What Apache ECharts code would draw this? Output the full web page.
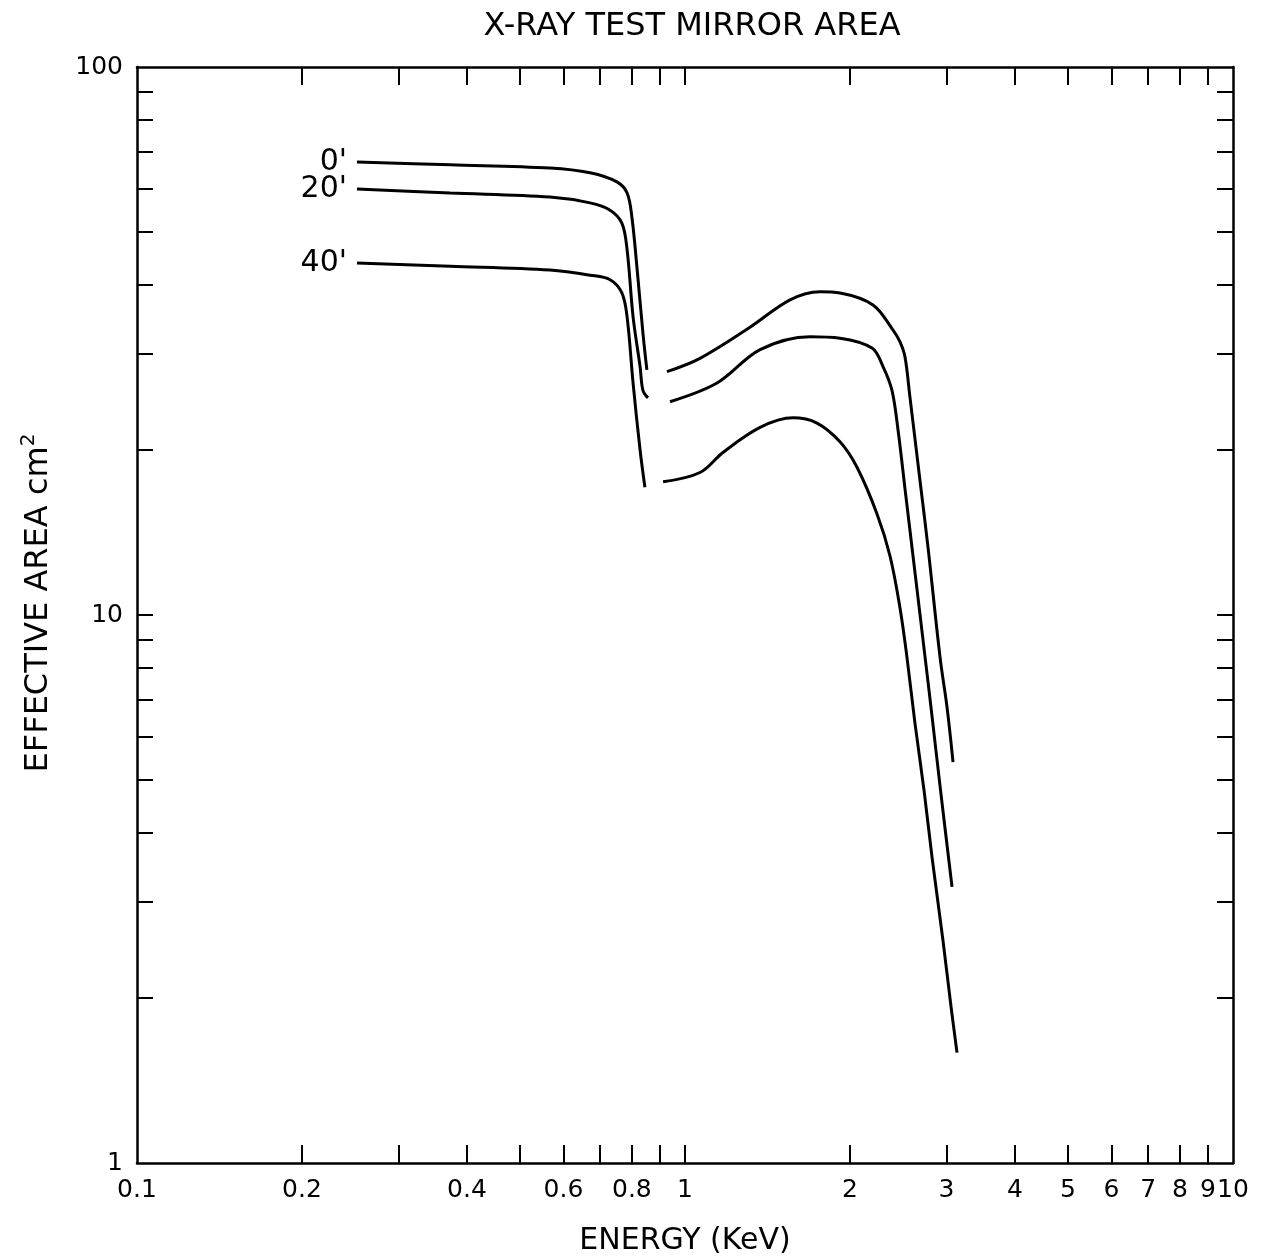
<!DOCTYPE html>
<html>
<head>
<meta charset="utf-8">
<title>X-RAY TEST MIRROR AREA</title>
<script src="https://cdn.jsdelivr.net/npm/echarts@6/dist/echarts.min.js"></script>
<style>
html, body { margin: 0; padding: 0; background: #fff; }
#main { width: 1266px; height: 1259px; }
</style>
</head>
<body>
<div id="main"></div>
<script>
// energy (KeV), effective area (cm2), each curve has a gap near 0.9 KeV
var area0Low = [[0.252, 67.1], [0.373, 66.3], [0.567, 65.4], [0.671, 64.1], [0.751, 61.7], [0.784, 58.9], [0.800, 53.2], [0.817, 43.2], [0.838, 32.7], [0.852, 28.0]];
var area0High = [[0.927, 27.8], [1.065, 29.4], [1.314, 33.5], [1.555, 37.6], [1.764, 38.9], [1.918, 38.7], [2.203, 36.8], [2.397, 33.1], [2.468, 31.5], [2.52, 29.6], [2.573, 25.0], [2.684, 17.6], [2.776, 13.3], [2.92, 8.38], [3.007, 6.79], [3.084, 5.39]];

var area20Low = [[0.252, 59.9], [0.373, 58.9], [0.567, 57.9], [0.671, 56.5], [0.730, 54.8], [0.767, 51.9], [0.784, 46.4], [0.804, 35.0], [0.828, 28.4], [0.838, 25.7], [0.856, 24.9]];
var area20High = [[0.939, 24.5], [1.144, 26.5], [1.371, 30.5], [1.691, 32.2], [1.918, 32.0], [2.194, 30.7], [2.298, 28.4], [2.386, 25.7], [2.447, 21.8], [2.531, 16.4], [2.617, 12.4], [2.742, 8.38], [2.811, 6.79], [2.926, 4.79], [3.071, 3.19]];

var area40Low = [[0.252, 43.9], [0.373, 43.3], [0.567, 42.6], [0.671, 41.7], [0.730, 40.9], [0.767, 38.7], [0.784, 35.0], [0.804, 26.5], [0.828, 20.0], [0.845, 17.1]];
var area40High = [[0.912, 17.5], [1.065, 18.2], [1.173, 19.8], [1.371, 22.0], [1.574, 22.9], [1.741, 22.4], [1.918, 20.7], [2.06, 18.6], [2.24, 15.3], [2.367, 12.8], [2.468, 10.3], [2.541, 8.38], [2.628, 6.35], [2.730, 4.79], [2.823, 3.62], [2.956, 2.55], [3.058, 1.93], [3.136, 1.59]];

var curveNames = ["0'", "20'", "40'"];

var xTicks = [0.2, 0.3, 0.4, 0.5, 0.6, 0.7, 0.8, 0.9, 1, 2, 3, 4, 5, 6, 7, 8, 9];
var xLabels = [0.1, 0.2, 0.4, 0.6, 0.8, 1, 2, 3, 4, 5, 6, 7, 8, 9, 10];
var yTicks = [2, 3, 4, 5, 6, 7, 8, 9, 10, 20, 30, 40, 50, 60, 70, 80, 90];
var yLabels = [1, 10, 100];

var FONT = 'DejaVu Sans';

function withLabel(points, text) {
    return points.map(function (p, i) {
        if (i !== 0) return p;
        return {
            value: p,
            label: {
                show: true,
                formatter: text,
                position: 'left',
                distance: 10,
                color: '#000',
                fontFamily: FONT,
                fontSize: 30
            }
        };
    });
}

function curve(points) {
    return {
        type: 'line',
        data: points,
        smooth: 0.35,
        symbol: 'circle',
        symbolSize: 0,
        showSymbol: true,
        lineStyle: { color: '#000', width: 3 },
        itemStyle: { color: '#000' },
        label: { show: false },
        z: 3
    };
}

function xAxisOf(pos, showLabels) {
    return {
        type: 'log',
        logBase: 10,
        position: pos,
        min: 0.1,
        max: 10,
        name: showLabels ? 'ENERGY (KeV)' : '',
        nameLocation: 'middle',
        nameGap: 63,
        nameTextStyle: { color: '#000', fontFamily: FONT, fontSize: 30 },
        axisLine: { show: true, onZero: false, lineStyle: { color: '#000', width: 2.5 } },
        axisTick: { show: true, inside: true, length: 18, customValues: xTicks, lineStyle: { color: '#000', width: 2 } },
        axisLabel: {
            show: showLabels,
            customValues: xLabels,
            margin: 15,
            color: '#000',
            fontFamily: FONT,
            fontSize: 25,
            formatter: function (v) { return String(+v); }
        },
        splitLine: { show: false },
        minorTick: { show: false }
    };
}

function yAxisOf(pos, showLabels) {
    return {
        type: 'log',
        logBase: 10,
        position: pos,
        min: 1,
        max: 100,
        name: showLabels ? '{n|EFFECTIVE AREA cm}{s|2}' : '',
        nameLocation: 'middle',
        nameRotate: 90,
        nameGap: 82,
        nameTextStyle: {
            color: '#000',
            padding: [0, 0, 0, 24],
            rich: {
                n: { fontFamily: FONT, fontSize: 32, color: '#000', lineHeight: 36, verticalAlign: 'bottom' },
                s: { fontFamily: FONT, fontSize: 20, color: '#000', verticalAlign: 'top', lineHeight: 36 }
            }
        },
        axisLine: { show: true, onZero: false, lineStyle: { color: '#000', width: 2.5 } },
        axisTick: { show: true, inside: true, length: 16, customValues: yTicks, lineStyle: { color: '#000', width: 2 } },
        axisLabel: {
            show: showLabels,
            customValues: yLabels,
            margin: 14,
            color: '#000',
            fontFamily: FONT,
            fontSize: 25,
            formatter: function (v) { return String(+v); }
        },
        splitLine: { show: false },
        minorTick: { show: false }
    };
}

var myChart = echarts.init(document.getElementById('main'));
var option = {
    animation: false,
    backgroundColor: '#fff',
    title: {
        text: 'X-RAY TEST MIRROR AREA',
        left: 687,
        textAlign: 'center',
        top: 6,
        textStyle: { color: '#000', fontFamily: FONT, fontSize: 32, fontWeight: 'normal' }
    },
    grid: {
        left: 137,
        right: 33,
        top: 67,
        bottom: 96,
        outerBoundsMode: 'none'
    },
    xAxis: [xAxisOf('bottom', true), xAxisOf('top', false)],
    yAxis: [yAxisOf('left', true), yAxisOf('right', false)],
    series: [
        curve(withLabel(area0Low, curveNames[0])),
        curve(area0High),
        curve(withLabel(area20Low, curveNames[1])),
        curve(area20High),
        curve(withLabel(area40Low, curveNames[2])),
        curve(area40High)
    ]
};
myChart.setOption(option);

window.onresize = function () {
    myChart.resize();
};
</script>
</body>
</html>
